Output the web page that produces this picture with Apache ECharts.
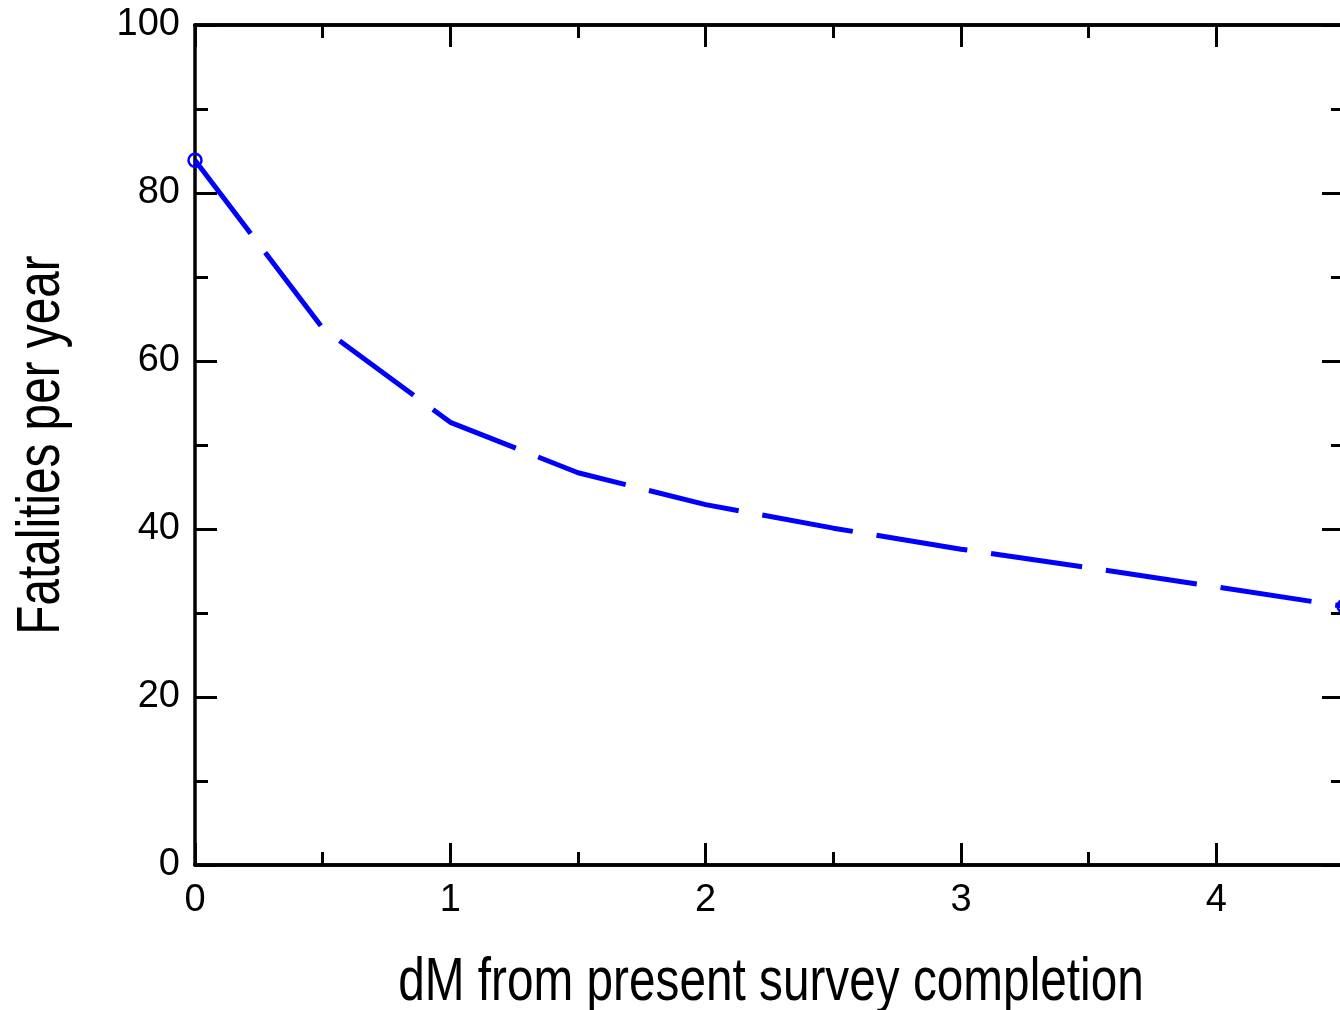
<!DOCTYPE html>
<html>
<head>
<meta charset="utf-8">
<title>Fatalities per year</title>
<script src="https://cdn.jsdelivr.net/npm/echarts@6/dist/echarts.min.js"></script>
<style>
    html, body{
        margin: 0;
        padding: 0;
        background: #fff;
        overflow: hidden;
    }
    /* a bit wider than the window: the right axis falls just off the edge */
    #chart{
        width: 1347px;
        height: 1010px;
    }
</style>
</head>
<body>
<div id="chart"></div>
<script>
    // dM from present survey completion
    var dM = [0, 0.5, 1, 1.5, 2, 2.5, 3, 3.5, 4, 4.5];
    // fatalities per year
    var fatalities = [83.9, 63.9, 52.7, 46.7, 42.9, 40.1, 37.6, 35.4, 33.1, 30.8];
    var xTitle = 'dM from present survey completion';
    var yTitle = 'Fatalities per year';

    var FONT = '"Liberation Sans", Arial, sans-serif';

    var points = dM.map(function (x, i) {
        var p = {value: [x, fatalities[i]], symbol: 'none'};
        // open circle only at both ends
        if (i === 0 || i === dM.length - 1) {
            p.symbol = 'circle';
        }
        return p;
    });

    var lineStyle = {color: '#000', width: 3.5};

    function xAx(pos, interval, len, labels) {
        return {
            type: 'value', position: pos, min: 0, max: 4.5, interval: interval,
            axisLine: {show: true, onZero: false, lineStyle: lineStyle},
            axisTick: {show: true, inside: true, length: len, lineStyle: {color: '#000', width: 3}},
            axisLabel: {
                show: labels, margin: 17, fontSize: 38, color: '#000', fontFamily: FONT,
                formatter: function (v) { return v % 1 === 0 ? String(v) : ''; }
            },
            splitLine: {show: false}
        };
    }

    function yAx(pos, labels) {
        return {
            type: 'value', position: pos, min: 0, max: 100, interval: 20,
            axisLine: {show: true, onZero: false, lineStyle: lineStyle},
            axisTick: {show: true, inside: true, length: 22, lineStyle: {color: '#000', width: 3}},
            minorTick: {show: true, splitNumber: 2, length: 13, lineStyle: {color: '#000', width: 3}},
            axisLabel: {show: labels, margin: 15, fontSize: 38, color: '#000', fontFamily: FONT},
            splitLine: {show: false}
        };
    }

    var myChart = echarts.init(document.getElementById('chart'));
    var option = {
        animation: false,
        backgroundColor: '#fff',
        grid: {left: 195, top: 25, right: 0, bottom: 145, containLabel: false},
        xAxis: [
            xAx('bottom', 1, 22, true),
            xAx('bottom', 0.5, 13, false),
            xAx('top', 1, 22, false),
            xAx('top', 0.5, 13, false)
        ],
        yAxis: [
            yAx('left', true),
            yAx('right', false)
        ],
        graphic: [
            {
                type: 'text', x: 771, y: 983, scaleX: 0.77, silent: true,
                style: {text: xTitle, fontSize: 62, fontFamily: FONT, fill: '#000',
                        textAlign: 'center', textVerticalAlign: 'middle'}
            },
            {
                type: 'text', x: 42, y: 445, rotation: Math.PI / 2, scaleX: 0.77, silent: true,
                style: {text: yTitle, fontSize: 62, fontFamily: FONT, fill: '#000',
                        textAlign: 'center', textVerticalAlign: 'middle'}
            }
        ],
        series: [{
            type: 'line',
            xAxisIndex: 0,
            yAxisIndex: 0,
            data: points,
            symbolSize: 13,
            itemStyle: {color: 'rgba(255,255,255,0)', borderColor: '#0000ff', borderWidth: 2.5},
            lineStyle: {color: '#0000ff', width: 5, type: [92, 24], cap: 'butt'}
        }]
    };
    myChart.setOption(option);
</script>
</body>
</html>
